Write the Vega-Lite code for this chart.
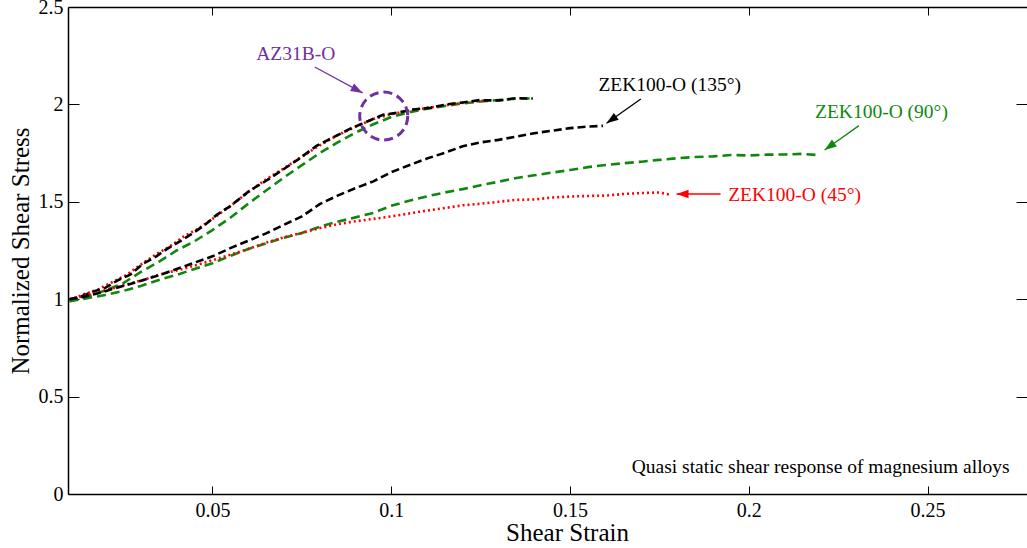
{
  "$schema": "https://vega.github.io/schema/vega-lite/v6.json",
  "width": 959,
  "height": 487,
  "autosize": {"type": "none"},
  "padding": {"left": 68, "top": 7, "right": 0, "bottom": 54},
  "background": "white",
  "config": {
    "view": {"stroke": null},
    "font": "Liberation Serif",
    "axis": {
      "grid": false,
      "domainColor": "black",
      "domainWidth": 1.5,
      "tickColor": "black",
      "tickWidth": 1,
      "labelFont": "Liberation Serif",
      "labelFontSize": 20,
      "labelColor": "black",
      "titleFont": "Liberation Serif",
      "titleFontSize": 25,
      "titleFontWeight": "normal",
      "titleColor": "black"
    }
  },
  "datasets": {
    "curves": [
      {"series": "AZ_green", "strain": 0.010, "stress": 0.990},
      {"series": "AZ_green", "strain": 0.015, "stress": 1.012},
      {"series": "AZ_green", "strain": 0.020, "stress": 1.045},
      {"series": "AZ_green", "strain": 0.025, "stress": 1.082},
      {"series": "AZ_green", "strain": 0.030, "stress": 1.140},
      {"series": "AZ_green", "strain": 0.035, "stress": 1.192},
      {"series": "AZ_green", "strain": 0.040, "stress": 1.250},
      {"series": "AZ_green", "strain": 0.045, "stress": 1.298},
      {"series": "AZ_green", "strain": 0.050, "stress": 1.355},
      {"series": "AZ_green", "strain": 0.055, "stress": 1.418},
      {"series": "AZ_green", "strain": 0.060, "stress": 1.490},
      {"series": "AZ_green", "strain": 0.065, "stress": 1.558},
      {"series": "AZ_green", "strain": 0.070, "stress": 1.625},
      {"series": "AZ_green", "strain": 0.075, "stress": 1.688},
      {"series": "AZ_green", "strain": 0.080, "stress": 1.750},
      {"series": "AZ_green", "strain": 0.085, "stress": 1.805},
      {"series": "AZ_green", "strain": 0.090, "stress": 1.855},
      {"series": "AZ_green", "strain": 0.095, "stress": 1.898},
      {"series": "AZ_green", "strain": 0.100, "stress": 1.935},
      {"series": "AZ_green", "strain": 0.105, "stress": 1.960},
      {"series": "AZ_green", "strain": 0.110, "stress": 1.978},
      {"series": "AZ_green", "strain": 0.115, "stress": 1.992},
      {"series": "AZ_green", "strain": 0.120, "stress": 2.005},
      {"series": "AZ_green", "strain": 0.125, "stress": 2.015},
      {"series": "AZ_green", "strain": 0.130, "stress": 2.022},
      {"series": "AZ_green", "strain": 0.135, "stress": 2.030},
      {"series": "AZ_green", "strain": 0.140, "stress": 2.030},

      {"series": "AZ_red", "strain": 0.010, "stress": 0.995},
      {"series": "AZ_red", "strain": 0.014, "stress": 1.025},
      {"series": "AZ_red", "strain": 0.018, "stress": 1.050},
      {"series": "AZ_red", "strain": 0.022, "stress": 1.088},
      {"series": "AZ_red", "strain": 0.026, "stress": 1.125},
      {"series": "AZ_red", "strain": 0.030, "stress": 1.178},
      {"series": "AZ_red", "strain": 0.034, "stress": 1.228},
      {"series": "AZ_red", "strain": 0.038, "stress": 1.270},
      {"series": "AZ_red", "strain": 0.042, "stress": 1.322},
      {"series": "AZ_red", "strain": 0.046, "stress": 1.362},
      {"series": "AZ_red", "strain": 0.050, "stress": 1.412},
      {"series": "AZ_red", "strain": 0.055, "stress": 1.478},
      {"series": "AZ_red", "strain": 0.060, "stress": 1.550},
      {"series": "AZ_red", "strain": 0.065, "stress": 1.615},
      {"series": "AZ_red", "strain": 0.070, "stress": 1.672},
      {"series": "AZ_red", "strain": 0.075, "stress": 1.732},
      {"series": "AZ_red", "strain": 0.080, "stress": 1.790},
      {"series": "AZ_red", "strain": 0.085, "stress": 1.842},
      {"series": "AZ_red", "strain": 0.090, "stress": 1.885},
      {"series": "AZ_red", "strain": 0.095, "stress": 1.925},
      {"series": "AZ_red", "strain": 0.100, "stress": 1.950},
      {"series": "AZ_red", "strain": 0.105, "stress": 1.968},
      {"series": "AZ_red", "strain": 0.110, "stress": 1.982},
      {"series": "AZ_red", "strain": 0.115, "stress": 1.995},
      {"series": "AZ_red", "strain": 0.120, "stress": 2.008},
      {"series": "AZ_red", "strain": 0.125, "stress": 2.018},
      {"series": "AZ_red", "strain": 0.128, "stress": 2.022},

      {"series": "AZ_black", "strain": 0.010, "stress": 1.000},
      {"series": "AZ_black", "strain": 0.013, "stress": 1.012},
      {"series": "AZ_black", "strain": 0.0166, "stress": 1.039},
      {"series": "AZ_black", "strain": 0.020, "stress": 1.058},
      {"series": "AZ_black", "strain": 0.0235, "stress": 1.097},
      {"series": "AZ_black", "strain": 0.027, "stress": 1.126},
      {"series": "AZ_black", "strain": 0.0306, "stress": 1.182},
      {"series": "AZ_black", "strain": 0.034, "stress": 1.216},
      {"series": "AZ_black", "strain": 0.0371, "stress": 1.256},
      {"series": "AZ_black", "strain": 0.041, "stress": 1.298},
      {"series": "AZ_black", "strain": 0.0446, "stress": 1.340},
      {"series": "AZ_black", "strain": 0.048, "stress": 1.383},
      {"series": "AZ_black", "strain": 0.0511, "stress": 1.432},
      {"series": "AZ_black", "strain": 0.055, "stress": 1.478},
      {"series": "AZ_black", "strain": 0.0604, "stress": 1.557},
      {"series": "AZ_black", "strain": 0.065, "stress": 1.608},
      {"series": "AZ_black", "strain": 0.0697, "stress": 1.665},
      {"series": "AZ_black", "strain": 0.074, "stress": 1.718},
      {"series": "AZ_black", "strain": 0.0791, "stress": 1.787},
      {"series": "AZ_black", "strain": 0.084, "stress": 1.833},
      {"series": "AZ_black", "strain": 0.0884, "stress": 1.874},
      {"series": "AZ_black", "strain": 0.093, "stress": 1.910},
      {"series": "AZ_black", "strain": 0.0977, "stress": 1.947},
      {"series": "AZ_black", "strain": 0.102, "stress": 1.958},
      {"series": "AZ_black", "strain": 0.1061, "stress": 1.974},
      {"series": "AZ_black", "strain": 0.111, "stress": 1.983},
      {"series": "AZ_black", "strain": 0.1154, "stress": 2.000},
      {"series": "AZ_black", "strain": 0.120, "stress": 2.010},
      {"series": "AZ_black", "strain": 0.1247, "stress": 2.022},
      {"series": "AZ_black", "strain": 0.130, "stress": 2.020},
      {"series": "AZ_black", "strain": 0.135, "stress": 2.032},
      {"series": "AZ_black", "strain": 0.1396, "stress": 2.030},

      {"series": "ZEK_green", "strain": 0.010, "stress": 0.990},
      {"series": "ZEK_green", "strain": 0.015, "stress": 1.005},
      {"series": "ZEK_green", "strain": 0.020, "stress": 1.022},
      {"series": "ZEK_green", "strain": 0.026, "stress": 1.047},
      {"series": "ZEK_green", "strain": 0.030, "stress": 1.068},
      {"series": "ZEK_green", "strain": 0.035, "stress": 1.099},
      {"series": "ZEK_green", "strain": 0.040, "stress": 1.125},
      {"series": "ZEK_green", "strain": 0.045, "stress": 1.155},
      {"series": "ZEK_green", "strain": 0.050, "stress": 1.185},
      {"series": "ZEK_green", "strain": 0.055, "stress": 1.222},
      {"series": "ZEK_green", "strain": 0.060, "stress": 1.258},
      {"series": "ZEK_green", "strain": 0.065, "stress": 1.287},
      {"series": "ZEK_green", "strain": 0.070, "stress": 1.315},
      {"series": "ZEK_green", "strain": 0.075, "stress": 1.340},
      {"series": "ZEK_green", "strain": 0.080, "stress": 1.372},
      {"series": "ZEK_green", "strain": 0.085, "stress": 1.398},
      {"series": "ZEK_green", "strain": 0.090, "stress": 1.420},
      {"series": "ZEK_green", "strain": 0.095, "stress": 1.443},
      {"series": "ZEK_green", "strain": 0.100, "stress": 1.480},
      {"series": "ZEK_green", "strain": 0.105, "stress": 1.505},
      {"series": "ZEK_green", "strain": 0.110, "stress": 1.528},
      {"series": "ZEK_green", "strain": 0.115, "stress": 1.548},
      {"series": "ZEK_green", "strain": 0.120, "stress": 1.565},
      {"series": "ZEK_green", "strain": 0.125, "stress": 1.585},
      {"series": "ZEK_green", "strain": 0.130, "stress": 1.603},
      {"series": "ZEK_green", "strain": 0.135, "stress": 1.622},
      {"series": "ZEK_green", "strain": 0.140, "stress": 1.636},
      {"series": "ZEK_green", "strain": 0.145, "stress": 1.650},
      {"series": "ZEK_green", "strain": 0.150, "stress": 1.663},
      {"series": "ZEK_green", "strain": 0.155, "stress": 1.678},
      {"series": "ZEK_green", "strain": 0.160, "stress": 1.689},
      {"series": "ZEK_green", "strain": 0.165, "stress": 1.698},
      {"series": "ZEK_green", "strain": 0.170, "stress": 1.706},
      {"series": "ZEK_green", "strain": 0.175, "stress": 1.715},
      {"series": "ZEK_green", "strain": 0.180, "stress": 1.724},
      {"series": "ZEK_green", "strain": 0.185, "stress": 1.730},
      {"series": "ZEK_green", "strain": 0.190, "stress": 1.733},
      {"series": "ZEK_green", "strain": 0.195, "stress": 1.740},
      {"series": "ZEK_green", "strain": 0.200, "stress": 1.738},
      {"series": "ZEK_green", "strain": 0.205, "stress": 1.742},
      {"series": "ZEK_green", "strain": 0.210, "stress": 1.743},
      {"series": "ZEK_green", "strain": 0.215, "stress": 1.746},
      {"series": "ZEK_green", "strain": 0.2193, "stress": 1.740},

      {"series": "ZEK_red", "strain": 0.010, "stress": 1.000},
      {"series": "ZEK_red", "strain": 0.015, "stress": 1.020},
      {"series": "ZEK_red", "strain": 0.020, "stress": 1.045},
      {"series": "ZEK_red", "strain": 0.025, "stress": 1.070},
      {"series": "ZEK_red", "strain": 0.0306, "stress": 1.099},
      {"series": "ZEK_red", "strain": 0.035, "stress": 1.125},
      {"series": "ZEK_red", "strain": 0.040, "stress": 1.148},
      {"series": "ZEK_red", "strain": 0.045, "stress": 1.172},
      {"series": "ZEK_red", "strain": 0.050, "stress": 1.200},
      {"series": "ZEK_red", "strain": 0.055, "stress": 1.228},
      {"series": "ZEK_red", "strain": 0.060, "stress": 1.258},
      {"series": "ZEK_red", "strain": 0.065, "stress": 1.290},
      {"series": "ZEK_red", "strain": 0.070, "stress": 1.318},
      {"series": "ZEK_red", "strain": 0.075, "stress": 1.340},
      {"series": "ZEK_red", "strain": 0.080, "stress": 1.365},
      {"series": "ZEK_red", "strain": 0.085, "stress": 1.385},
      {"series": "ZEK_red", "strain": 0.090, "stress": 1.400},
      {"series": "ZEK_red", "strain": 0.095, "stress": 1.412},
      {"series": "ZEK_red", "strain": 0.100, "stress": 1.425},
      {"series": "ZEK_red", "strain": 0.105, "stress": 1.440},
      {"series": "ZEK_red", "strain": 0.110, "stress": 1.455},
      {"series": "ZEK_red", "strain": 0.115, "stress": 1.468},
      {"series": "ZEK_red", "strain": 0.120, "stress": 1.482},
      {"series": "ZEK_red", "strain": 0.125, "stress": 1.490},
      {"series": "ZEK_red", "strain": 0.130, "stress": 1.500},
      {"series": "ZEK_red", "strain": 0.135, "stress": 1.510},
      {"series": "ZEK_red", "strain": 0.140, "stress": 1.512},
      {"series": "ZEK_red", "strain": 0.145, "stress": 1.522},
      {"series": "ZEK_red", "strain": 0.150, "stress": 1.527},
      {"series": "ZEK_red", "strain": 0.155, "stress": 1.530},
      {"series": "ZEK_red", "strain": 0.160, "stress": 1.532},
      {"series": "ZEK_red", "strain": 0.165, "stress": 1.540},
      {"series": "ZEK_red", "strain": 0.170, "stress": 1.545},
      {"series": "ZEK_red", "strain": 0.175, "stress": 1.548},
      {"series": "ZEK_red", "strain": 0.1784, "stress": 1.535},

      {"series": "ZEK_black", "strain": 0.010, "stress": 1.000},
      {"series": "ZEK_black", "strain": 0.014, "stress": 1.012},
      {"series": "ZEK_black", "strain": 0.018, "stress": 1.030},
      {"series": "ZEK_black", "strain": 0.022, "stress": 1.052},
      {"series": "ZEK_black", "strain": 0.026, "stress": 1.073},
      {"series": "ZEK_black", "strain": 0.030, "stress": 1.095},
      {"series": "ZEK_black", "strain": 0.035, "stress": 1.122},
      {"series": "ZEK_black", "strain": 0.040, "stress": 1.155},
      {"series": "ZEK_black", "strain": 0.045, "stress": 1.188},
      {"series": "ZEK_black", "strain": 0.050, "stress": 1.220},
      {"series": "ZEK_black", "strain": 0.055, "stress": 1.262},
      {"series": "ZEK_black", "strain": 0.060, "stress": 1.300},
      {"series": "ZEK_black", "strain": 0.065, "stress": 1.338},
      {"series": "ZEK_black", "strain": 0.070, "stress": 1.382},
      {"series": "ZEK_black", "strain": 0.075, "stress": 1.425},
      {"series": "ZEK_black", "strain": 0.080, "stress": 1.488},
      {"series": "ZEK_black", "strain": 0.085, "stress": 1.532},
      {"series": "ZEK_black", "strain": 0.090, "stress": 1.570},
      {"series": "ZEK_black", "strain": 0.095, "stress": 1.605},
      {"series": "ZEK_black", "strain": 0.100, "stress": 1.652},
      {"series": "ZEK_black", "strain": 0.105, "stress": 1.688},
      {"series": "ZEK_black", "strain": 0.110, "stress": 1.722},
      {"series": "ZEK_black", "strain": 0.115, "stress": 1.752},
      {"series": "ZEK_black", "strain": 0.120, "stress": 1.785},
      {"series": "ZEK_black", "strain": 0.125, "stress": 1.805},
      {"series": "ZEK_black", "strain": 0.130, "stress": 1.818},
      {"series": "ZEK_black", "strain": 0.135, "stress": 1.835},
      {"series": "ZEK_black", "strain": 0.140, "stress": 1.852},
      {"series": "ZEK_black", "strain": 0.145, "stress": 1.865},
      {"series": "ZEK_black", "strain": 0.150, "stress": 1.878},
      {"series": "ZEK_black", "strain": 0.155, "stress": 1.886},
      {"series": "ZEK_black", "strain": 0.1592, "stress": 1.890}
    ],
    "labels": [
      {"group": "purple", "strain": 0.0733, "stress": 2.259, "text": "AZ31B-O"},
      {"group": "black", "strain": 0.1779, "stress": 2.100, "text": "ZEK100-O (135°)"},
      {"group": "green", "strain": 0.2371, "stress": 1.963, "text": "ZEK100-O (90°)"},
      {"group": "red", "strain": 0.2128, "stress": 1.535, "text": "ZEK100-O (45°)"}
    ],
    "arrows": [
      {"group": "purple", "strain": 0.0786, "stress": 2.192, "strain2": 0.0920, "stress2": 2.059},
      {"group": "black", "strain": 0.1698, "stress": 2.028, "strain2": 0.1602, "stress2": 1.903},
      {"group": "green", "strain": 0.2308, "stress": 1.891, "strain2": 0.2212, "stress2": 1.766},
      {"group": "red", "strain": 0.1921, "stress": 1.540, "strain2": 0.1798, "stress2": 1.540}
    ],
    "circle": [
      {"strain": 0.0979, "stress": 1.940}
    ],
    "note": [
      {"strain": 0.2201, "stress": 0.140, "text": "Quasi static shear response of magnesium alloys"}
    ]
  },
  "layer": [
    {
      "data": {"name": "curves"},
      "mark": {"type": "line", "strokeWidth": 2.6},
      "encoding": {
        "x": {
          "field": "strain", "type": "quantitative",
          "scale": {"domain": [0.0096, 0.2778], "nice": false, "zero": false},
          "axis": {
            "orient": "bottom", "title": "Shear Strain",
            "values": [0.05, 0.1, 0.15, 0.2, 0.25], "format": "~g",
            "tickSize": -8, "labelPadding": 14,
            "titleX": 499, "titleY": 46, "titleBaseline": "alphabetic", "titleAlign": "center"
          }
        },
        "y": {
          "field": "stress", "type": "quantitative",
          "scale": {"domain": [0, 2.5], "nice": false},
          "axis": {
            "orient": "left", "title": "Normalized Shear Stress",
            "values": [0, 0.5, 1, 1.5, 2, 2.5], "format": "~g",
            "tickSize": -11, "labelPadding": 16,
            "titleX": -48, "titleY": 243.5, "titleBaseline": "middle", "titleAlign": "center", "titleAngle": -90
          }
        },
        "detail": {"field": "series"},
        "color": {
          "field": "series", "type": "nominal", "legend": null,
          "scale": {
            "domain": ["AZ_green", "AZ_red", "AZ_black", "ZEK_green", "ZEK_red", "ZEK_black"],
            "range": ["#0f870f", "#ff0000", "#000000", "#0f870f", "#ff0000", "#000000"]
          }
        },
        "strokeDash": {
          "field": "series", "type": "nominal", "legend": null,
          "scale": {
            "domain": ["AZ_green", "AZ_red", "AZ_black", "ZEK_green", "ZEK_red", "ZEK_black"],
            "range": [[9, 5], [2, 3], [8, 4], [9, 5], [2, 3], [8, 4]]
          }
        }
      }
    },
    {
      "data": {"name": "circle"},
      "mark": {"type": "point", "shape": "circle", "size": 2304, "filled": false, "stroke": "#7030a0", "strokeWidth": 3, "strokeDash": [9, 5], "opacity": 1},
      "encoding": {
        "x": {
          "field": "strain", "type": "quantitative",
          "axis": {"orient": "top", "title": null, "labels": false, "values": [0.05, 0.1, 0.15, 0.2, 0.25], "tickSize": -8, "domain": true}
        },
        "y": {
          "field": "stress", "type": "quantitative",
          "axis": {"orient": "right", "title": null, "labels": false, "values": [0, 0.5, 1, 1.5, 2, 2.5], "tickSize": -11, "domain": false}
        }
      }
    },
    {
      "data": {"name": "arrows"},
      "mark": {"type": "rule", "strokeWidth": 1.3},
      "encoding": {
        "x": {"field": "strain", "type": "quantitative", "axis": null},
        "y": {"field": "stress", "type": "quantitative", "axis": null},
        "x2": {"field": "strain2"},
        "y2": {"field": "stress2"},
        "color": {
          "field": "group", "type": "nominal", "legend": null,
          "scale": {"domain": ["purple", "black", "green", "red"], "range": ["#7030a0", "#000000", "#0f870f", "#ff0000"]}
        }
      }
    },
    {
      "data": {"name": "arrows"},
      "transform": [{"filter": "datum.group == 'purple'"}],
      "mark": {"type": "point", "shape": "M0,0L0.7,2L-0.7,2Z", "size": 144, "filled": true, "angle": 118.4, "opacity": 1, "color": "#7030a0"},
      "encoding": {
        "x": {"field": "strain2", "type": "quantitative", "axis": null},
        "y": {"field": "stress2", "type": "quantitative", "axis": null}
      }
    },
    {
      "data": {"name": "arrows"},
      "transform": [{"filter": "datum.group == 'black'"}],
      "mark": {"type": "point", "shape": "M0,0L0.7,2L-0.7,2Z", "size": 144, "filled": true, "angle": 234.7, "opacity": 1, "color": "#000000"},
      "encoding": {
        "x": {"field": "strain2", "type": "quantitative", "axis": null},
        "y": {"field": "stress2", "type": "quantitative", "axis": null}
      }
    },
    {
      "data": {"name": "arrows"},
      "transform": [{"filter": "datum.group == 'green'"}],
      "mark": {"type": "point", "shape": "M0,0L0.7,2L-0.7,2Z", "size": 144, "filled": true, "angle": 234.7, "opacity": 1, "color": "#0f870f"},
      "encoding": {
        "x": {"field": "strain2", "type": "quantitative", "axis": null},
        "y": {"field": "stress2", "type": "quantitative", "axis": null}
      }
    },
    {
      "data": {"name": "arrows"},
      "transform": [{"filter": "datum.group == 'red'"}],
      "mark": {"type": "point", "shape": "M0,0L0.7,2L-0.7,2Z", "size": 144, "filled": true, "angle": 270, "opacity": 1, "color": "#ff0000"},
      "encoding": {
        "x": {"field": "strain2", "type": "quantitative", "axis": null},
        "y": {"field": "stress2", "type": "quantitative", "axis": null}
      }
    },
    {
      "data": {"name": "labels"},
      "mark": {"type": "text", "font": "Liberation Serif", "fontSize": 19.5, "align": "center", "baseline": "middle"},
      "encoding": {
        "x": {"field": "strain", "type": "quantitative", "axis": null},
        "y": {"field": "stress", "type": "quantitative", "axis": null},
        "text": {"field": "text"},
        "color": {
          "field": "group", "type": "nominal", "legend": null,
          "scale": {"domain": ["purple", "black", "green", "red"], "range": ["#7030a0", "#000000", "#0f870f", "#ff0000"]}
        }
      }
    },
    {
      "data": {"name": "note"},
      "mark": {"type": "text", "font": "Liberation Serif", "fontSize": 19.5, "align": "center", "baseline": "middle", "color": "black"},
      "encoding": {
        "x": {"field": "strain", "type": "quantitative", "axis": null},
        "y": {"field": "stress", "type": "quantitative", "axis": null},
        "text": {"field": "text"}
      }
    }
  ],
  "resolve": {
    "axis": {"x": "independent", "y": "independent"},
    "scale": {"color": "independent"}
  }
}
